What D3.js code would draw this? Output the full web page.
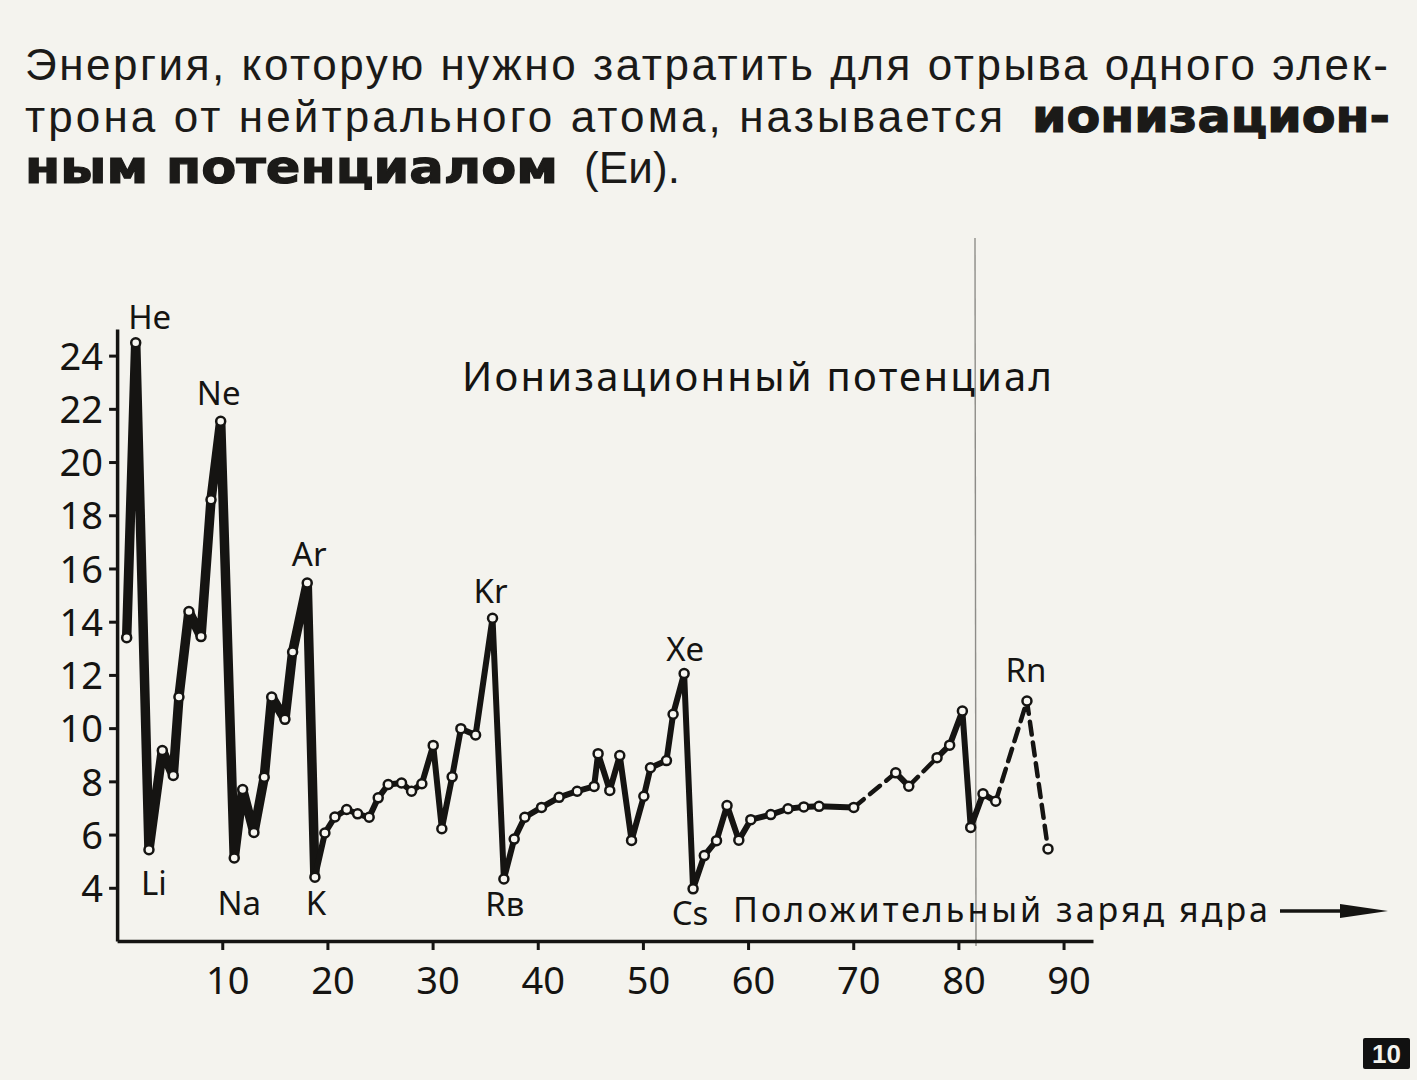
<!DOCTYPE html>
<html>
<head>
<meta charset="utf-8">
<script src="https://cdn.jsdelivr.net/npm/d3@7"></script>
<style>
  html, body { margin: 0; padding: 0; background: #f4f3ee; }
  svg { display: block; }
</style>
</head>
<body>
<svg id="chart" width="1417" height="1080"></svg>
<script>
// ---- data ----
// positions along the nuclear-charge axis (as drawn) and ionization potential (eV)
const charge = [0.91, 1.77, 3.03, 4.30, 5.34, 5.88, 6.83, 7.98, 8.93, 9.85,
  11.14, 11.94, 13.01, 13.99, 14.70, 15.96, 16.69, 18.08, 18.81, 19.76,
  20.71, 21.83, 22.87, 23.97, 24.83, 25.78, 27.05, 28.00, 28.98, 30.06,
  30.88, 31.86, 32.69, 34.09, 35.70, 36.78, 37.76, 38.77, 40.36, 42.03,
  43.75, 45.36, 45.74, 46.85, 47.80, 48.92, 50.09, 50.72, 52.24, 52.87,
  53.92, 54.77, 55.84, 57.00, 58.00, 59.12, 60.26, 62.16, 63.80, 65.30,
  66.75, 70.05, 74.04, 75.28, 77.97, 79.17, 80.38, 81.17, 82.34, 83.55,
  86.52, 88.52];
const energy = [13.40, 24.48, 5.43, 9.16, 8.22, 11.17, 14.38, 13.44, 18.58, 21.53,
  5.12, 7.69, 6.08, 8.15, 11.17, 10.33, 12.86, 15.45, 4.40, 6.06,
  6.66, 6.94, 6.78, 6.65, 7.38, 7.88, 7.94, 7.63, 7.91, 9.35,
  6.22, 8.17, 9.98, 9.74, 14.13, 4.33, 5.83, 6.65, 7.02, 7.40,
  7.63, 7.81, 9.04, 7.66, 8.97, 5.78, 7.44, 8.51, 8.78, 10.52,
  12.05, 3.96, 5.21, 5.77, 7.09, 5.79, 6.56, 6.75, 6.97, 7.04,
  7.06, 7.02, 8.32, 7.82, 8.89, 9.36, 10.64, 6.27, 7.53, 7.25,
  11.02, 5.46];
// kind of each segment between consecutive points: T = heavy solid, M = solid, D = dashed
const segmentKind = "TTTTTTTTTTTTTTTTTT" +
  "MMMMMMMMMMMMMMMMMMMMMMMMMMMMMMMMMMMMMMMMMMM" +
  "DMDMMMMMDD";
const elementNames = ["He", "Ne", "Ar", "Kr", "Xe", "Rn", "Li", "Na", "K", "Rв", "Cs"];
const elementPoint = [1, 9, 17, 34, 50, 70, 2, 10, 18, 35, 51];
const xTicks = [10, 20, 30, 40, 50, 60, 70, 80, 90];
const yTicks = [4, 6, 8, 10, 12, 14, 16, 18, 20, 22, 24];
const chartTitle = "Ионизационный  потенциал";
const xAxisTitle = "Положительный  заряд  ядра";

// ---- drawing ----
const svg = d3.select("#chart");
const ink = "#151412";
svg.append("rect").attr("width", 1417).attr("height", 1080).attr("fill", "#f4f3ee");

// paragraph text
const para = svg.append("g").attr("fill", "#1b1a18");
function ptext(str, x, y, len, bold) {
  para.append("text")
    .attr("x", x).attr("y", y)
    .attr("textLength", len).attr("lengthAdjust", bold ? "spacingAndGlyphs" : "spacing")
    .attr("font-family", bold ? "'DejaVu Sans', sans-serif" : "'Liberation Sans', Arial, sans-serif")
    .attr("font-weight", bold ? 900 : 400)
    .attr("font-size", bold ? 46 : 44)
    .attr("stroke", bold ? "#1b1a18" : null)
    .attr("stroke-width", bold ? 1.2 : null)
    .text(str);
}
ptext("Энергия, которую нужно затратить для отрыва одного элек-", 25, 80, 1363, false);
ptext("трона  от  нейтрального  атома,  называется", 25, 132, 978, false);
ptext("ионизацион-", 1032, 132, 358, true);
ptext("ным потенциалом", 25, 183, 533, true);
ptext("(Еи).", 584, 183, 96, false);

// scales
const x = d3.scaleLinear().domain([0, 92.8]).range([117.1, 1093]);
const y = d3.scaleLinear().domain([2, 25]).range([941, 329]);

const chartFont = "'Noto Sans', 'DejaVu Sans', sans-serif";

// film scratch line visible in the reference
svg.append("line").attr("x1", 975).attr("x2", 976).attr("y1", 238).attr("y2", 946)
  .attr("stroke", "#4a4945").attr("stroke-width", 1.4).attr("opacity", 0.6);

// axes
const xAxis = d3.axisBottom(x).tickValues(xTicks).tickSizeInner(9).tickSizeOuter(0).tickPadding(0);
const gx = svg.append("g").attr("transform", `translate(0,${y(2)})`).call(xAxis);
gx.select(".domain").attr("stroke", ink).attr("stroke-width", 3.5);
gx.selectAll(".tick line").attr("stroke", ink).attr("stroke-width", 3);
gx.selectAll(".tick text")
  .attr("y", 53).attr("dy", 0).attr("dx", 5)
  .attr("font-family", chartFont).attr("font-size", 38).attr("fill", ink);

const yAxis = d3.axisLeft(y).tickValues(yTicks).tickSizeInner(8).tickSizeOuter(0).tickPadding(6);
const gy = svg.append("g").attr("transform", `translate(${x(0)},0)`).call(yAxis);
gy.select(".domain").attr("stroke", ink).attr("stroke-width", 3.5);
gy.selectAll(".tick line").attr("stroke", ink).attr("stroke-width", 3);
gy.selectAll(".tick text")
  .attr("font-family", chartFont).attr("font-size", 38).attr("fill", ink).attr("dy", "0.36em");

// chart title
svg.append("text").attr("x", 462).attr("y", 391)
  .attr("textLength", 590).attr("lengthAdjust", "spacing")
  .attr("font-family", chartFont).attr("font-size", 40).attr("fill", ink)
  .text(chartTitle);

// x axis title + arrow
svg.append("text").attr("x", 733).attr("y", 922)
  .attr("textLength", 535).attr("lengthAdjust", "spacing")
  .attr("font-family", chartFont).attr("font-size", 34).attr("fill", ink)
  .text(xAxisTitle);
svg.append("line").attr("x1", 1280).attr("x2", 1350).attr("y1", 911).attr("y2", 911)
  .attr("stroke", ink).attr("stroke-width", 3.5);
svg.append("path").attr("d", "M1340,904 L1388,911 L1340,918 Z").attr("fill", ink);

// data lines, grouped in runs of identical segment kind
const pts = charge.map((c, i) => [x(c), y(energy[i])]);
const line = d3.line();
const kindStyle = {
  T: { w: 9.5, dash: null },
  M: { w: 6, dash: null },
  D: { w: 4.5, dash: "13,8" }
};
let runStart = 0;
for (let i = 1; i <= segmentKind.length; i++) {
  if (i === segmentKind.length || segmentKind[i] !== segmentKind[runStart]) {
    const k = segmentKind[runStart];
    svg.append("path")
      .attr("d", line(pts.slice(runStart, i + 1)))
      .attr("fill", "none").attr("stroke", ink)
      .attr("stroke-width", kindStyle[k].w)
      .attr("stroke-linejoin", "round").attr("stroke-linecap", "round")
      .attr("stroke-dasharray", kindStyle[k].dash);
    runStart = i;
  }
}

// markers
svg.append("g").selectAll("circle").data(pts).join("circle")
  .attr("cx", d => d[0]).attr("cy", d => d[1]).attr("r", 4.5)
  .attr("fill", "#f7f6f1").attr("stroke", ink).attr("stroke-width", 2.5);

// element labels
const labelOffset = {
  He: [14, -14], Ne: [-2, -16], Ar: [2, -17], Kr: [-2, -15], Xe: [1, -13], Rn: [-1, -19],
  Li: [5, 45], Na: [5, 57], K: [1, 38], "Rв": [1, 37], Cs: [-3, 36]
};
svg.append("g").selectAll("text").data(elementNames).join("text")
  .attr("x", (d, i) => x(charge[elementPoint[i]]) + labelOffset[d][0])
  .attr("y", (d, i) => y(energy[elementPoint[i]]) + labelOffset[d][1])
  .attr("text-anchor", "middle")
  .attr("font-family", chartFont).attr("font-size", 33).attr("fill", ink)
  .text(d => d);

// slide number badge
svg.append("rect").attr("x", 1363).attr("y", 1038).attr("width", 47).attr("height", 31)
  .attr("rx", 2).attr("fill", "#111");
svg.append("text").attr("x", 1386.5).attr("y", 1063).attr("text-anchor", "middle")
  .attr("font-family", "'Liberation Sans', Arial, sans-serif").attr("font-weight", 700)
  .attr("font-size", 26).attr("fill", "#f4f3ee").text("10");
</script>
</body>
</html>
